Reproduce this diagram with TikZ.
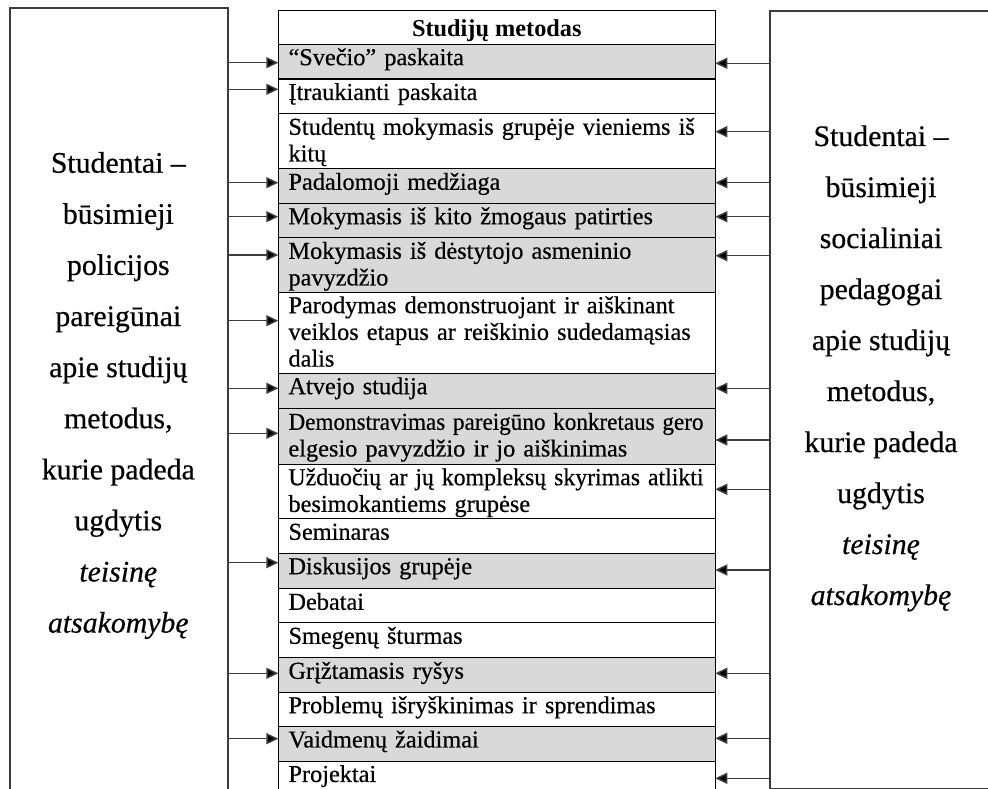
\documentclass[tikz,border=0pt]{standalone}
\usepackage{fontspec}
\setmainfont{Liberation Serif}[UprightFeatures={FakeBold=0.5},ItalicFeatures={FakeBold=0.5}]
\usepackage{graphicx}
\usetikzlibrary{arrows.meta}
\definecolor{rowgray}{HTML}{D9D9D9}
\definecolor{boxline}{HTML}{3C3C3C}
\newcommand\jl[1]{\sbox0{#1}\ifdim\wd0>\hsize\resizebox{\hsize}{\height}{#1}\else\makebox[\hsize][s]{#1}\fi}
\tikzset{
  bigbox/.style={draw=boxline, line width=1.6pt, fill=white, inner sep=0pt},
  rowbox/.style={draw=black, line width=1.1pt, minimum width=437pt, inner sep=0pt},
  rowtext/.style={inner sep=0pt, text width=415pt, align=left,
    font=\fontsize{24.3}{26.7}\selectfont},
  bigtext/.style={inner sep=0pt, anchor=base, font=\fontsize{29.8}{36}\selectfont},
  arr/.style={draw=boxline, line width=1.5pt, -{Triangle[length=12pt,width=11pt,fill=black]}},
}
\newcommand\trow[5]{%
  \node[rowbox, fill=#4, minimum height=#3pt, anchor=north west] (#1) at (278.3,#2) {};
  \node[rowtext, anchor=north west] (#1t) at ([xshift=10pt,yshift=-2.6pt]#1.north west) {\strut #5};}
\begin{document}
\begin{tikzpicture}[x=1pt,y=-1pt]
\useasboundingbox (0,0) rectangle (988,789);
\clip (0,0) rectangle (988,789);
\fill[white] (0,0) rectangle (988,789);

% side boxes
\node[bigbox, anchor=north west, minimum width=218pt, minimum height=850pt] (L) at (9.3,7.3) {};
\node[bigbox, anchor=north west, minimum width=224pt, minimum height=777.7pt] (R) at (769.3,10.3) {};
\foreach \t [count=\i from 0] in {Studentai –, būsimieji, policijos, pareigūnai, apie studijų, metodus{,}, kurie padeda, ugdytis, \textit{teisinę}, \textit{atsakomybę}}
  \node[bigtext] (Lt\i) at (118.3,172.7+51.1*\i) {\t};
\foreach \t [count=\i from 0] in {Studentai –, būsimieji, socialiniai, pedagogai, apie studijų, metodus{,}, kurie padeda, ugdytis, \textit{teisinę}, \textit{atsakomybę}}
  \node[bigtext] (Rt\i) at (881,146+51*\i) {\t};

% table
\node[rowbox, fill=white, minimum height=34pt, anchor=north west] (r0) at (278.3,9.7) {};
\node[inner sep=0pt, anchor=base, font=\fontsize{24.3}{26.7}\selectfont\bfseries] (r0t) at (496.8,36.7) {Studijų metodas};
\trow{r1}{43.7}{34.8}{rowgray}{“Svečio” paskaita}
\trow{r2}{78.5}{34.8}{white}{Įtraukianti paskaita}
\trow{r3}{113.3}{55}{white}{\jl{Studentų mokymasis grupėje vieniems iš}\\kitų}
\trow{r4}{168.3}{34.4}{rowgray}{Padalomoji medžiaga}
\trow{r5}{202.7}{34.6}{rowgray}{Mokymasis iš kito žmogaus patirties}
\trow{r6}{237.3}{54.4}{rowgray}{\jl{Mokymasis iš dėstytojo asmeninio}\\pavyzdžio}
\trow{r7}{291.7}{81}{white}{\jl{Parodymas demonstruojant ir aiškinant}\\\jl{veiklos etapus ar reiškinio sudedamąsias}\\dalis}
\trow{r8}{372.7}{35.6}{rowgray}{Atvejo studija}
\trow{r9}{408.3}{55.4}{rowgray}{\jl{Demonstravimas pareigūno konkretaus gero}\\elgesio pavyzdžio ir jo aiškinimas}
\trow{r10}{463.7}{54.6}{white}{\jl{Užduočių ar jų kompleksų skyrimas atlikti}\\besimokantiems grupėse}
\trow{r11}{518.3}{34.4}{white}{Seminaras}
\trow{r12}{552.7}{35.6}{rowgray}{Diskusijos grupėje}
\trow{r13}{588.3}{34}{white}{Debatai}
\trow{r14}{622.3}{35}{white}{Smegenų šturmas}
\trow{r15}{657.3}{34.4}{rowgray}{Grįžtamasis ryšys}
\trow{r16}{691.7}{34.3}{white}{Problemų išryškinimas ir sprendimas}
\trow{r17}{726}{34.5}{rowgray}{Vaidmenų žaidimai}
\trow{r18}{760.5}{59.5}{white}{Projektai}

% arrow end points on the table edges
\coordinate (la1) at (278.3,62.7);
\coordinate (la2) at (278.3,89.3);
\coordinate (la4) at (278.3,182.7);
\coordinate (la5) at (278.3,216.7);
\coordinate (la6) at (278.3,255);
\coordinate (la7) at (278.3,320.7);
\coordinate (la8) at (278.3,388.3);
\coordinate (la9) at (278.3,433.3);
\coordinate (la12) at (278.3,562.7);
\coordinate (la15) at (278.3,673.3);
\coordinate (la17) at (278.3,738.7);
\foreach \a in {la1,la2,la4,la5,la6,la7,la8,la9,la12,la15,la17}
  \draw[arr] (L.east |- \a) -- (\a);

\coordinate (ra1) at (715.3,63.3);
\coordinate (ra3) at (715.3,131.7);
\coordinate (ra4) at (715.3,182.7);
\coordinate (ra5) at (715.3,216.7);
\coordinate (ra6) at (715.3,255.7);
\coordinate (ra8) at (715.3,388.3);
\coordinate (ra9) at (715.3,440);
\coordinate (ra10) at (715.3,489.3);
\coordinate (ra12) at (715.3,570);
\coordinate (ra15) at (715.3,673.3);
\coordinate (ra17) at (715.3,738.3);
\coordinate (ra18) at (715.3,778.3);
\foreach \a in {ra1,ra3,ra4,ra5,ra6,ra8,ra9,ra10,ra12,ra15,ra17,ra18}
  \draw[arr] (R.west |- \a) -- (\a);
\end{tikzpicture}
\end{document}
